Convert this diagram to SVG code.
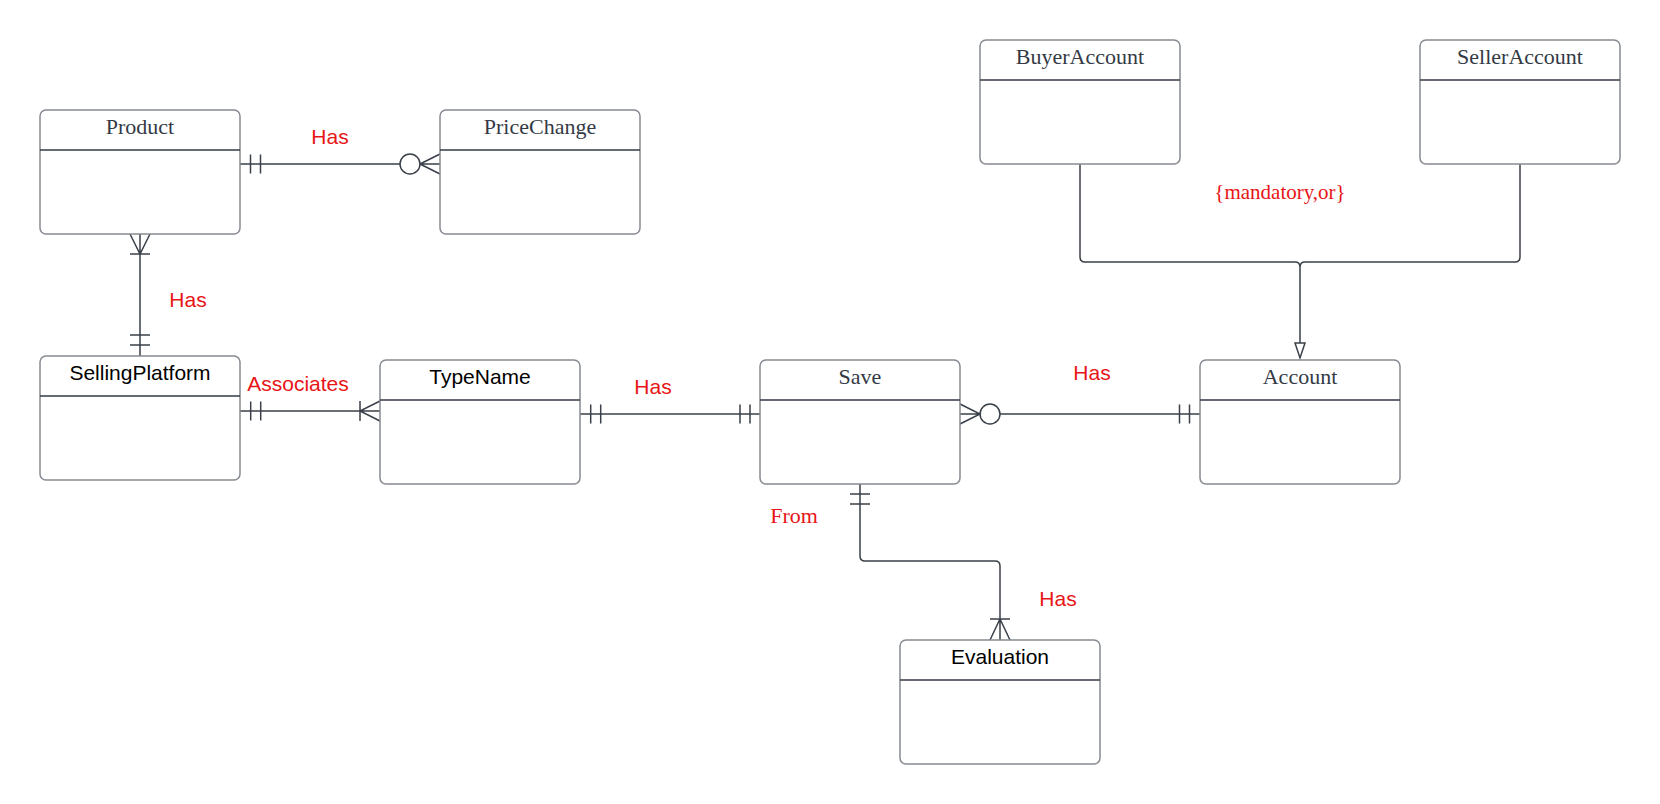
<svg xmlns="http://www.w3.org/2000/svg" width="1660" height="804" viewBox="0 0 1660 804">
<style>
.box{fill:#fff;stroke:#868a91;stroke-width:1.5}
.div{stroke:#333a45;stroke-width:1.3}
.ser{font-family:"Liberation Serif","Times New Roman",serif;font-size:22px;fill:#333a45;text-anchor:middle}
.san{font-family:"Liberation Sans",Arial,sans-serif;font-size:21px;fill:#000;text-anchor:middle}
.lbl{font-family:"Liberation Sans",Arial,sans-serif;font-size:21px;fill:#e81416;text-anchor:middle}
.lbls{font-family:"Liberation Serif","Times New Roman",serif;font-size:21px;fill:#e81416;text-anchor:middle}
.c{fill:none;stroke:#3a4049;stroke-width:1.5}
</style>
<rect width="1660" height="804" fill="#fff"/>
<g id="connectors">
  <!-- Product - PriceChange -->
  <path class="c" d="M240,164 H400 M250.5,154.5 V173.5 M260.5,154.5 V173.5 M420,164 L440,154 M420,164 H440 M420,164 L440,174"/>
  <circle class="c" cx="410" cy="164" r="10"/>
  <!-- Product - SellingPlatform -->
  <path class="c" d="M140,234 V356 M130,234 L140,254 L150,234 M130,254 H150 M130,335 H150 M130,345 H150"/>
  <!-- SellingPlatform - TypeName -->
  <path class="c" d="M240,411 H380 M250.7,401.5 V420.5 M260.7,401.5 V420.5 M360,401 V421 M380,401 L360,411 L380,421"/>
  <!-- TypeName - Save -->
  <path class="c" d="M580,414 H760 M590.7,404.5 V423.5 M600.7,404.5 V423.5 M740,404.5 V423.5 M750,404.5 V423.5"/>
  <!-- Save - Account -->
  <path class="c" d="M960,404 L980,414 L960,424 M960,414 H980 M1000,414 H1200 M1179.5,404.5 V423.5 M1189.5,404.5 V423.5"/>
  <circle class="c" cx="990" cy="414" r="10"/>
  <!-- Save - Evaluation -->
  <path class="c" d="M860,484 V556 Q860,561 865,561 H995 Q1000,561 1000,566 V640 M850,494 H870 M850,504 H870 M990,619 H1010 M990,640 L1000,619 L1010,640"/>
  <!-- Generalization -->
  <path class="c" d="M1080,164 V257 Q1080,262 1085,262 H1295 Q1300,262 1300,267 V343 M1520,164 V257 Q1520,262 1515,262 H1305 Q1300,262 1300,267"/>
  <path class="c" d="M1295,343 H1305 L1300,358 Z"/>
</g>
<g id="labels">
  <text class="lbl" x="330" y="144">Has</text>
  <text class="lbl" x="188" y="307">Has</text>
  <text class="lbl" x="298" y="391">Associates</text>
  <text class="lbl" x="653" y="394">Has</text>
  <text class="lbl" x="1092" y="380">Has</text>
  <text class="lbls" x="794" y="523" style="font-size:22px">From</text>
  <text class="lbl" x="1058" y="606">Has</text>
  <text class="lbls" x="1280" y="199">{mandatory,or}</text>
</g>
<g id="Product">
  <rect class="box" x="40" y="110" width="200" height="124" rx="6"/>
  <line class="div" x1="40" y1="150" x2="240" y2="150"/>
  <text class="ser" x="140" y="134">Product</text>
</g>
<g id="PriceChange">
  <rect class="box" x="440" y="110" width="200" height="124" rx="6"/>
  <line class="div" x1="440" y1="150" x2="640" y2="150"/>
  <text class="ser" x="540" y="134">PriceChange</text>
</g>
<g id="SellingPlatform">
  <rect class="box" x="40" y="356" width="200" height="124" rx="6"/>
  <line class="div" x1="40" y1="396" x2="240" y2="396"/>
  <text class="san" x="140" y="380">SellingPlatform</text>
</g>
<g id="TypeName">
  <rect class="box" x="380" y="360" width="200" height="124" rx="6"/>
  <line class="div" x1="380" y1="400" x2="580" y2="400"/>
  <text class="san" x="480" y="384">TypeName</text>
</g>
<g id="Save">
  <rect class="box" x="760" y="360" width="200" height="124" rx="6"/>
  <line class="div" x1="760" y1="400" x2="960" y2="400"/>
  <text class="ser" x="860" y="384">Save</text>
</g>
<g id="Account">
  <rect class="box" x="1200" y="360" width="200" height="124" rx="6"/>
  <line class="div" x1="1200" y1="400" x2="1400" y2="400"/>
  <text class="ser" x="1300" y="384">Account</text>
</g>
<g id="BuyerAccount">
  <rect class="box" x="980" y="40" width="200" height="124" rx="6"/>
  <line class="div" x1="980" y1="80" x2="1180" y2="80"/>
  <text class="ser" x="1080" y="64">BuyerAccount</text>
</g>
<g id="SellerAccount">
  <rect class="box" x="1420" y="40" width="200" height="124" rx="6"/>
  <line class="div" x1="1420" y1="80" x2="1620" y2="80"/>
  <text class="ser" x="1520" y="64">SellerAccount</text>
</g>
<g id="Evaluation">
  <rect class="box" x="900" y="640" width="200" height="124" rx="6"/>
  <line class="div" x1="900" y1="680" x2="1100" y2="680"/>
  <text class="san" x="1000" y="664">Evaluation</text>
</g>
</svg>
